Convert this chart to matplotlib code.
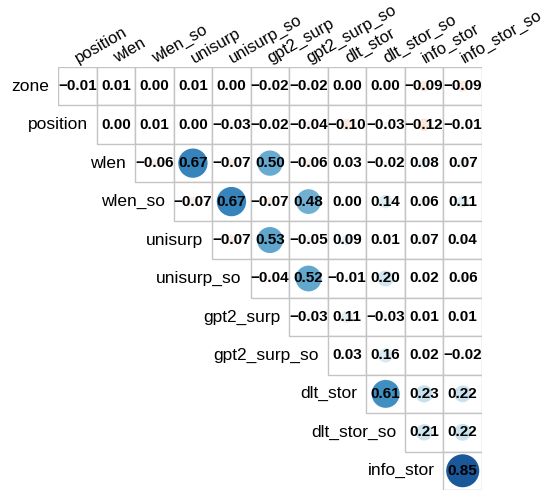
import matplotlib
matplotlib.use("Agg")
import matplotlib.pyplot as plt
from matplotlib.patches import Circle, Rectangle
import numpy as np

plt.rcParams['font.family'] = ['Liberation Sans', 'DejaVu Sans']

row_labels = ["zone", "position", "wlen", "wlen_so", "unisurp", "unisurp_so",
              "gpt2_surp", "gpt2_surp_so", "dlt_stor", "dlt_stor_so", "info_stor"]
col_labels = ["position", "wlen", "wlen_so", "unisurp", "unisurp_so", "gpt2_surp",
              "gpt2_surp_so", "dlt_stor", "dlt_stor_so", "info_stor", "info_stor_so"]

r_zone = [-0.01, 0.01, 0.00, 0.01, 0.00, -0.02, -0.02, 0.00, 0.00, -0.09, -0.09]
r_position = [0.00, 0.01, 0.00, -0.03, -0.02, -0.04, -0.10, -0.03, -0.12, -0.01]
r_wlen = [-0.06, 0.67, -0.07, 0.50, -0.06, 0.03, -0.02, 0.08, 0.07]
r_wlen_so = [-0.07, 0.67, -0.07, 0.48, 0.00, 0.14, 0.06, 0.11]
r_unisurp = [-0.07, 0.53, -0.05, 0.09, 0.01, 0.07, 0.04]
r_unisurp_so = [-0.04, 0.52, -0.01, 0.20, 0.02, 0.06]
r_gpt2_surp = [-0.03, 0.11, -0.03, 0.01, 0.01]
r_gpt2_surp_so = [0.03, 0.16, 0.02, -0.02]
r_dlt_stor = [0.61, 0.23, 0.22]
r_dlt_stor_so = [0.21, 0.22]
r_info_stor = [0.85]

rows = [r_zone, r_position, r_wlen, r_wlen_so, r_unisurp, r_unisurp_so,
        r_gpt2_surp, r_gpt2_surp_so, r_dlt_stor, r_dlt_stor_so, r_info_stor]

W, H = 547, 493
fig = plt.figure(figsize=(W / 100, H / 100), dpi=100)
left, right, top, bottom = 58, 482, 67, 490
ax = fig.add_axes([left / W, 1 - bottom / H, (right - left) / W, (bottom - top) / H])
n = len(col_labels)
ax.set_xlim(-0.5, n - 0.5)
ax.set_ylim(n - 0.5, -0.5)
ax.axis('off')

cmap = plt.get_cmap('RdBu')
grid_col = '#c4c4c4'

for i, vals in enumerate(rows):
    for k, v in enumerate(vals):
        j = i + k
        ax.add_patch(Rectangle((j - 0.5, i - 0.5), 1, 1, facecolor='white',
                               edgecolor=grid_col, linewidth=1.0, zorder=1))
for i, vals in enumerate(rows):
    for k, v in enumerate(vals):
        j = i + k
        rad = 0.465 * np.sqrt(abs(v))
        if rad > 0:
            ax.add_patch(Circle((j, i), rad, facecolor=cmap((v + 1) / 2),
                                edgecolor='none', zorder=2))
        txt = f"{v:.2f}".replace("-", "\u2212")
        ax.text(j, i, txt, ha='center', va='center', fontsize=11,
                fontweight='bold', color='black', zorder=3)

for i, lab in enumerate(row_labels):
    ax.text(i - 0.5 - 0.23, i, lab, ha='right', va='center', fontsize=12.5,
            color='black', clip_on=False)

for j, lab in enumerate(col_labels):
    ax.text(j + 0.03, -0.5 - 0.1, lab, ha='left', va='baseline', rotation=30,
            rotation_mode='anchor', fontsize=12, color='black', clip_on=False)

fig.savefig("out.png", dpi=100, facecolor='white')
